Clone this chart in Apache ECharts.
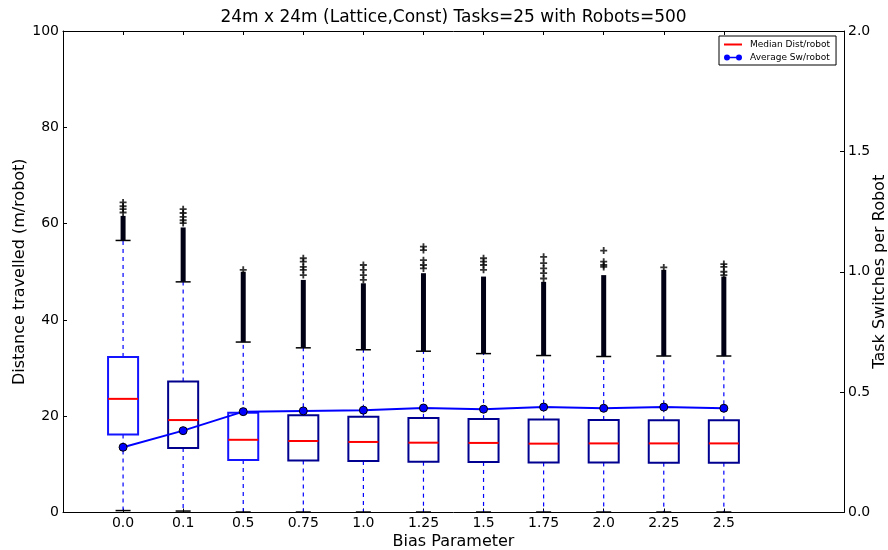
<!DOCTYPE html>
<html>
<head>
<meta charset="utf-8">
<script src="https://cdn.jsdelivr.net/npm/echarts@6/dist/echarts.min.js"></script>
<style>
  html, body { margin: 0; padding: 0; background: #fff; }
  #chart { width: 888px; height: 550px; }
</style>
</head>
<body>
<div id="chart"></div>
<script>
// Bias parameter values (one box per value)
const categories = ['0.0', '0.1', '0.5', '0.75', '1.0', '1.25', '1.5', '1.75', '2.0', '2.25', '2.5'];

// Distance travelled per robot (m): five-number summaries
const whiskerLow  = [0.4, 0.3, 0.1, 0.1, 0.1, 0.1, 0.1, 0.1, 0.1, 0.1, 0.1];
const q1          = [16.2, 13.4, 10.9, 10.8, 10.7, 10.55, 10.5, 10.4, 10.4, 10.35, 10.35];
const median      = [23.6, 19.2, 15.1, 14.85, 14.65, 14.5, 14.45, 14.3, 14.35, 14.35, 14.35];
const q3          = [32.3, 27.2, 20.7, 20.2, 19.9, 19.65, 19.4, 19.3, 19.2, 19.15, 19.15];
const whiskerHigh = [56.5, 47.9, 35.4, 34.2, 33.8, 33.5, 33.0, 32.6, 32.4, 32.5, 32.5];

// Outliers: dense runs [from, to] and the sparse ones above them
const outlierRuns = [
  [56.5, 61.6], [47.9, 59.2], [35.4, 50.0], [34.2, 48.3], [33.8, 47.6], [33.5, 49.7],
  [33.0, 49.0], [32.6, 47.9], [32.4, 49.3], [32.5, 50.4], [32.5, 49.0]
];
const outlierSparse = [
  [62.3, 63.0, 63.6, 64.4],
  [60.1, 60.7, 61.4, 62.2, 63.0],
  [50.4],
  [49.3, 50.4, 51.0, 52.1, 52.8],
  [48.3, 49.3, 50.4, 51.4],
  [50.7, 51.4, 52.4, 54.5, 55.2],
  [50.4, 51.4, 52.1, 52.8],
  [48.6, 49.7, 50.7, 51.8, 53.1],
  [51.0, 51.4, 52.1, 54.4],
  [50.9],
  [49.3, 50.0, 51.0, 51.6]
];

// Average task switches per robot
const meanSwitches = [0.271, 0.340, 0.419, 0.422, 0.425, 0.434, 0.429, 0.438, 0.433, 0.438, 0.433];

const FONT = 'DejaVu Sans';
const positions = categories.map((_, i) => i + 1);
const boxStroke = ['#1414ff', '#00008c', '#1414ff', '#000090', '#000090', '#000090',
                   '#000090', '#000090', '#000090', '#000090', '#000090'];
const HALF_BOX = 0.25;
const HALF_CAP = 0.125;

const boxData = positions.map((p, i) => [p, whiskerLow[i], q1[i], median[i], q3[i], whiskerHigh[i]]);
const runData = positions.map((p, i) => [p, outlierRuns[i][0], outlierRuns[i][1]]);
const sparseData = [];
outlierSparse.forEach((list, i) => list.forEach(v => sparseData.push([positions[i], v])));
const meanData = positions.map((p, i) => [p, meanSwitches[i]]);

function renderBox(params, api) {
  const x = api.value(0);
  const idx = params.dataIndex;
  const lo = api.coord([x, api.value(1)]);
  const b1 = api.coord([x - HALF_BOX, api.value(2)]);
  const b2 = api.coord([x + HALF_BOX, api.value(4)]);
  const md = api.coord([x, api.value(3)]);
  const hi = api.coord([x, api.value(5)]);
  const c1 = api.coord([x - HALF_CAP, 0])[0];
  const c2 = api.coord([x + HALF_CAP, 0])[0];
  const whisk = { stroke: '#0000ff', lineWidth: 1.2, lineDash: [4, 4] };
  const cap = { stroke: '#000', lineWidth: 1.5 };
  return {
    type: 'group',
    children: [
      { type: 'line', shape: { x1: hi[0], y1: b2[1], x2: hi[0], y2: hi[1] }, style: whisk },
      { type: 'line', shape: { x1: lo[0], y1: b1[1], x2: lo[0], y2: lo[1] }, style: whisk },
      { type: 'line', shape: { x1: c1, y1: hi[1], x2: c2, y2: hi[1] }, style: cap },
      { type: 'line', shape: { x1: c1, y1: lo[1], x2: c2, y2: lo[1] }, style: cap },
      { type: 'rect', shape: { x: b1[0], y: b2[1], width: b2[0] - b1[0], height: b1[1] - b2[1] },
        style: { fill: null, stroke: boxStroke[idx], lineWidth: 2 } },
      { type: 'line', shape: { x1: b1[0], y1: md[1], x2: b2[0], y2: md[1] },
        style: { stroke: '#ff0000', lineWidth: 2 } }
    ]
  };
}

function renderRun(params, api) {
  const a = api.coord([api.value(0), api.value(1)]);
  const b = api.coord([api.value(0), api.value(2)]);
  return {
    type: 'rect',
    shape: { x: a[0] - 2.5, y: b[1], width: 5, height: a[1] - b[1] },
    style: { fill: '#000014' }
  };
}

const PLUS = 'path://M-1,-0.26 L-0.26,-0.26 L-0.26,-1 L0.26,-1 L0.26,-0.26 L1,-0.26 L1,0.26 L0.26,0.26 L0.26,1 L-0.26,1 L-0.26,0.26 L-1,0.26 Z';
const LEGEND_LINE = 'path://M0,0 H18 V2 H0 Z';
const LEGEND_DOTS = 'path://M0,4 A3,3 0 1 1 6,4 A3,3 0 1 1 0,4 Z M12,4 A3,3 0 1 1 18,4 A3,3 0 1 1 12,4 Z M5,3.3 H13 V4.7 H5 Z';

const tickLabel = { color: '#000', fontFamily: FONT, fontSize: 14 };
const axisLine = { show: true, onZero: false, lineStyle: { color: '#000', width: 1 } };

const chart = echarts.init(document.getElementById('chart'), null, { renderer: 'canvas' });
chart.setOption({
  animation: false,
  backgroundColor: '#fff',
  textStyle: { fontFamily: FONT },
  title: {
    text: '24m x 24m (Lattice,Const) Tasks=25 with Robots=500',
    left: 453.5, top: 9, padding: 0, textAlign: 'center',
    textStyle: { fontFamily: FONT, fontSize: 17, fontWeight: 'normal', color: '#000' }
  },
  legend: {
    orient: 'vertical', left: 719, top: 36,
    padding: [4, 6, 3, 5], itemGap: 4,
    itemWidth: 18, itemHeight: 8,
    backgroundColor: '#fff', borderColor: '#000', borderWidth: 1, borderRadius: 0,
    textStyle: { fontFamily: FONT, fontSize: 9, color: '#000', padding: [0, 0, 0, 3] },
    selectedMode: false,
    data: [
      { name: 'Median Dist/robot', icon: LEGEND_LINE, itemStyle: { color: '#ff0000', borderWidth: 0 } },
      { name: 'Average Sw/robot', icon: LEGEND_DOTS, itemStyle: { color: '#0000ff', borderWidth: 0 } }
    ]
  },
  grid: { left: 63, right: 44, top: 31, bottom: 37.5, containLabel: false, outerBoundsMode: 'none' },
  xAxis: [
    {
      type: 'value', min: 0, max: 13, interval: 1, position: 'bottom',
      name: 'Bias Parameter', nameLocation: 'middle', nameGap: 21, nameMoveOverlap: false,
      nameTextStyle: { fontFamily: FONT, fontSize: 16, color: '#000' },
      axisLine: axisLine,
      axisTick: { show: true, inside: true, length: 4, customValues: positions, lineStyle: { color: '#000' } },
      axisLabel: Object.assign({ margin: 4, customValues: positions,
        formatter: v => categories[Math.round(v) - 1] || '' }, tickLabel),
      splitLine: { show: false }
    },
    {
      type: 'value', min: 0, max: 13, interval: 1, position: 'top',
      axisLine: axisLine,
      axisTick: { show: true, inside: true, length: 4, customValues: positions, lineStyle: { color: '#000' } },
      axisLabel: { show: false },
      splitLine: { show: false }
    }
  ],
  yAxis: [
    {
      type: 'value', min: 0, max: 100, interval: 20, position: 'left',
      name: 'Distance travelled (m/robot)', nameLocation: 'middle', nameGap: 35, nameMoveOverlap: false,
      nameTextStyle: { fontFamily: FONT, fontSize: 16, color: '#000' },
      axisLine: axisLine,
      axisTick: { show: true, inside: true, length: 4, lineStyle: { color: '#000' } },
      axisLabel: Object.assign({ margin: 4 }, tickLabel),
      splitLine: { show: false }
    },
    {
      type: 'value', min: 0, max: 2, interval: 0.5, position: 'right',
      name: 'Task Switches per Robot', nameLocation: 'middle', nameGap: 28, nameMoveOverlap: false,
      nameTextStyle: { fontFamily: FONT, fontSize: 16, color: '#000' },
      axisLine: axisLine,
      axisTick: { show: true, inside: true, length: 4, lineStyle: { color: '#000' } },
      axisLabel: Object.assign({ margin: 4, formatter: v => v.toFixed(1) }, tickLabel),
      splitLine: { show: false }
    }
  ],
  series: [
    {
      name: 'Median Dist/robot', type: 'custom', xAxisIndex: 0, yAxisIndex: 0,
      renderItem: renderBox, data: boxData, itemStyle: { color: '#ff0000' },
      encode: { x: 0, y: [1, 2, 3, 4, 5] }, z: 2, silent: true
    },
    {
      name: 'outlier runs', type: 'custom', xAxisIndex: 0, yAxisIndex: 0,
      renderItem: renderRun, data: runData,
      encode: { x: 0, y: [1, 2] }, z: 3, silent: true
    },
    {
      name: 'outliers', type: 'scatter', xAxisIndex: 0, yAxisIndex: 0,
      data: sparseData, symbol: PLUS, symbolSize: 7,
      itemStyle: { color: '#000' }, z: 3, silent: true
    },
    {
      name: 'Average Sw/robot', type: 'line', xAxisIndex: 0, yAxisIndex: 1,
      data: meanData, symbol: 'circle', symbolSize: 8, showSymbol: true,
      lineStyle: { color: '#0000ff', width: 2 },
      itemStyle: { color: '#0000ff', borderColor: '#000', borderWidth: 1 },
      z: 5, silent: true
    }
  ]
});
</script>
</body>
</html>
